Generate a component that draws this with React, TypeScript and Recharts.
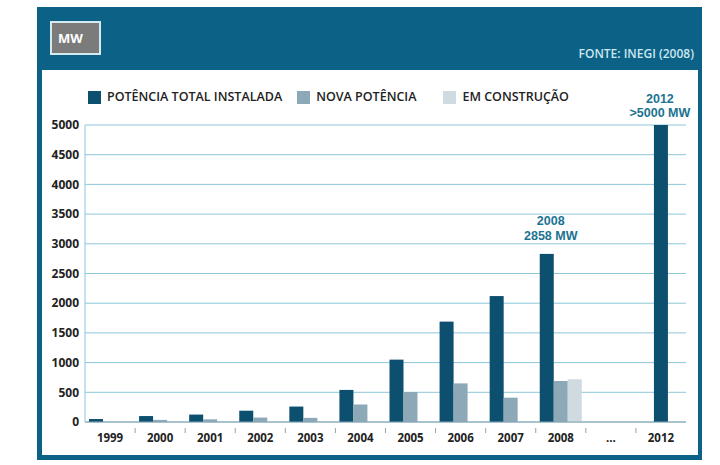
import React from "react";
import {
  BarChart,
  Bar,
  XAxis,
  YAxis,
  CartesianGrid,
  LabelList,
} from "recharts";

const years = ["1999", "2000", "2001", "2002", "2003", "2004", "2005", "2006", "2007", "2008", "...", "2012"];
const totalInstalada = [50, 100, 125, 190, 260, 540, 1050, 1690, 2120, 2830, null, 5000];
const novaPotencia = [0, 35, 45, 75, 70, 295, 505, 650, 410, 690, null, null];
const emConstrucao = [null, null, null, null, null, null, null, null, null, 720, null, null];
const yTicks = [0, 500, 1000, 1500, 2000, 2500, 3000, 3500, 4000, 4500, 5000];
const seriesNames = ["POTÊNCIA TOTAL INSTALADA", "NOVA POTÊNCIA", "EM CONSTRUÇÃO"];
const callouts: Record<string, string[]> = {
  "2008": ["2008", "2858 MW"],
  "2012": ["2012", ">5000 MW"],
};

const data = years.map((year, i) => ({
  year,
  total: totalInstalada[i],
  nova: novaPotencia[i],
  construcao: emConstrucao[i],
}));

const FRAME = "#0b6286";
const DARK = "#0d4f6e";
const MID = "#8da9b8";
const LIGHT = "#cfdae1";
const GRID = "#8cc7da";
const FONT = "'Open Sans', sans-serif";
const seriesColors = [DARK, MID, LIGHT];
const legendGaps = [15, 27, 0];

const CHART_W = 720;
const PLOT_LEFT = 85;
const PLOT_RIGHT = 34;
const halfStep = (CHART_W - PLOT_LEFT - PLOT_RIGHT) / years.length / 2;

// a barra de 2012 fica no meio da categoria (não há outras séries)
const isLone = (p: any) => p && p.year === "2012";

const TotalShape = (props: any) => {
  const { x, y, width, height, payload } = props;
  if (!height || height <= 0) return null;
  const dx = isLone(payload) ? width : 0;
  return <rect x={x + dx} y={y} width={width} height={height} fill={DARK} />;
};

const CalloutLabel = (props: any) => {
  const { x, y, width, value } = props;
  const year = String(value);
  const lines = callouts[year];
  if (!lines) return null;
  const lone = year === "2012";
  const dx = lone ? width : 0;
  const gap = lone ? 8 : 14;
  const cx = x + dx + width / 2 + (lone ? -1 : 4);
  const txt = {
    textAnchor: "middle" as const,
    fill: "#1b7391",
    fontFamily: "'Liberation Sans', Arial, sans-serif",
    fontWeight: 700,
    fontSize: 12.5,
  };
  return (
    <g>
      <text x={cx} y={y - gap - 14.5} {...txt}>{lines[0]}</text>
      <text x={cx} y={y - gap} {...txt}>{lines[1]}</text>
    </g>
  );
};

const YearTick = (props: any) => {
  const { x, y, payload, index } = props;
  return (
    <g>
      {index < years.length - 1 && (
        <line x1={x + halfStep} x2={x + halfStep} y1={y - 2} y2={y + 3} stroke="#8aa3ae" />
      )}
      <text
        x={x}
        y={y + 12}
        textAnchor="middle"
        fill="#222"
        fontFamily={FONT}
        fontWeight={700}
        fontSize={11.5}
      >
        {payload.value}
      </text>
    </g>
  );
};

export default function App() {
  return (
    <div style={{ position: "absolute", left: 0, top: 0, width: 720, height: 465, background: "#fff" }}>
      {/* moldura */}
      <div style={{ position: "absolute", left: 37, top: 7, width: 665, height: 453, background: FRAME }} />
      <div style={{ position: "absolute", left: 42, top: 70, width: 656, height: 385, background: "#fff" }} />
      <div
        style={{
          position: "absolute",
          left: 50,
          top: 21,
          width: 41,
          height: 30,
          background: "#7b7b7b",
          border: "2px solid #d5eaee",
          color: "#fff",
          fontFamily: FONT,
          fontWeight: 700,
          fontSize: 13,
          lineHeight: "30px",
          paddingLeft: 6,
        }}
      >
        MW
      </div>
      <div
        style={{
          position: "absolute",
          right: 720 - 694,
          top: 45,
          color: "#cde6ef",
          fontFamily: FONT,
          fontWeight: 600,
          fontSize: 12,
        }}
      >
        FONTE: INEGI (2008)
      </div>

      {/* legenda */}
      <div style={{ position: "absolute", left: 88, top: 89, display: "flex", alignItems: "center" }}>
        {seriesNames.map((name, i) => (
          <div key={name} style={{ display: "flex", alignItems: "center", marginRight: legendGaps[i] }}>
            <div style={{ width: 13, height: 13, background: seriesColors[i], marginRight: 6 }} />
            <span style={{ color: "#222", fontFamily: FONT, fontWeight: 600, fontSize: 12.5, lineHeight: "16px" }}>
              {name}
            </span>
          </div>
        ))}
      </div>

      <div style={{ position: "absolute", left: 0, top: 0 }}>
        <BarChart
          width={CHART_W}
          height={465}
          data={data}
          margin={{ top: 125, right: PLOT_RIGHT, left: PLOT_LEFT - 45, bottom: 13 }}
          barSize={14}
          barGap={0}
        >
          {/* grelha */}
          <CartesianGrid vertical={false} stroke={GRID} strokeWidth={1} />
          <XAxis
            dataKey="year"
            height={30}
            axisLine={{ stroke: "#8aa3ae" }}
            tickLine={false}
            interval={0}
            tick={<YearTick />}
          />
          <YAxis
            width={45}
            domain={[0, 5000]}
            ticks={yTicks}
            interval={0}
            axisLine={{ stroke: GRID }}
            tickLine={false}
            tickMargin={0}
            tick={{ fill: "#222", fontFamily: FONT, fontWeight: 700, fontSize: 12 }}
          />
          <Bar
            dataKey="total"
            name={seriesNames[0]}
            fill={DARK}
            shape={<TotalShape />}
            isAnimationActive={false}
          >
            <LabelList dataKey="year" content={<CalloutLabel />} />
          </Bar>
          <Bar dataKey="nova" name={seriesNames[1]} fill={MID} isAnimationActive={false} />
          <Bar dataKey="construcao" name={seriesNames[2]} fill={LIGHT} isAnimationActive={false} />
        </BarChart>
      </div>
    </div>
  );
}
